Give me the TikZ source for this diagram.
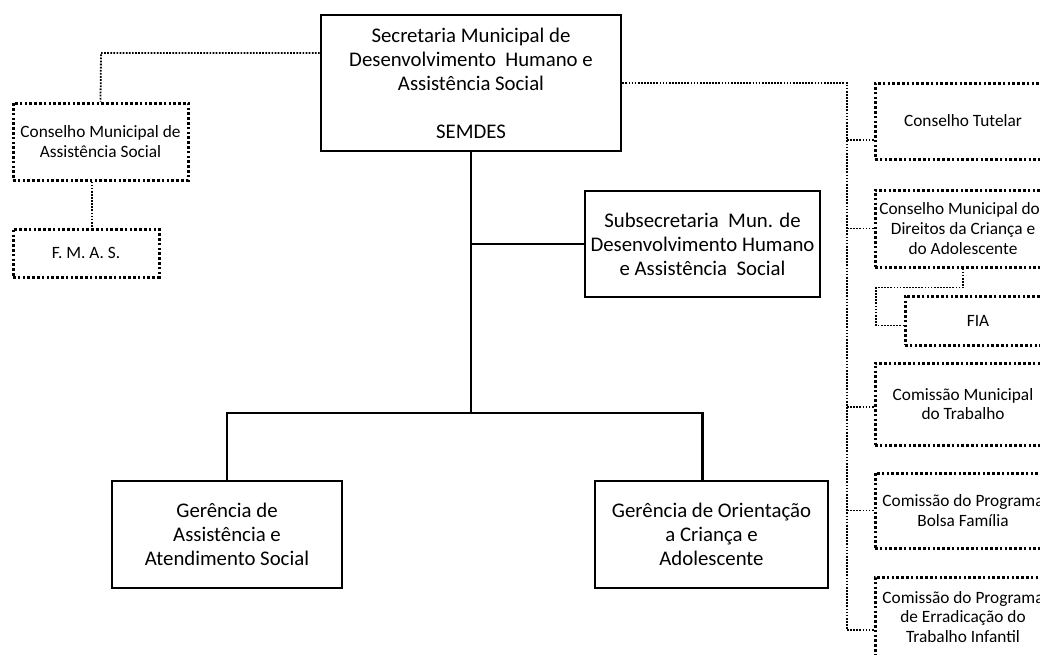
\documentclass[tikz,border=0pt]{standalone}
\usepackage{fontspec}
\setmainfont{Carlito}
\usetikzlibrary{positioning}
\tikzset{
orgbox/.style={ % solid boxes of the main hierarchy
draw,
line width=2.6pt,
inner sep=0pt,
align=center,
font=\fontsize{20.8}{24}\selectfont},
aux/.style={ % dotted boxes of the councils
draw,
line width=3pt,
dash pattern=on 2.6pt off 2.2pt,
inner sep=0pt,
align=center,
font=\fontsize{17.3}{19.8}\selectfont},
link/.style={ % solid connectors
draw,
line width=2.6pt},
dotlink/.style={ % dotted connectors
draw,
line width=1.8pt,
dash pattern=on 1.7pt off 1.4pt}}

\begin{document}
\begin{tikzpicture}[x=1pt,y=-1pt]
\clip (0,0) rectangle (1040,654);
\fill[white] (0,0) rectangle (1040,654);
% main hierarchy
\node[orgbox, minimum width=300, minimum height=136] (semdes) at (471,83)
{Secretaria Municipal de\\Desenvolvimento\ \ Humano e\\Assist\^encia Social\\[24pt]SEMDES};
\node[orgbox, minimum width=235, minimum height=106] (subsec) at (702.5,244)
{Subsecretaria\ \ Mun. de\\Desenvolvimento Humano\\e Assist\^encia\ \ Social};
\node[orgbox, minimum width=230, minimum height=107] (gas) at (227,534.5)
{Ger\^encia de\\Assist\^encia e\\Atendimento Social};
\node[orgbox, minimum width=233, minimum height=107] (goca) at (711.5,534.5)
{Ger\^encia de Orienta\c{c}\~ao\\a Crian\c{c}a e\\Adolescente};
% left councils
\node[aux, minimum width=175, minimum height=77] (cmas) at (100.5,141.5)
{Conselho Municipal de\\Assist\^encia Social};
\node[aux, minimum width=146, minimum height=48] (fmas) at (86,253) {F. M. A. S.};
% right councils
\node[aux, minimum width=176, minimum height=76] (tutelar) at (963,121) {Conselho Tutelar};
\node[aux, minimum width=176, minimum height=77] (cmdca) at (963,228.5)
{Conselho Municipal dos\\Direitos da Crian\c{c}a e\\do Adolescente};
\node[aux, minimum width=146, minimum height=49] (fia) at (978,320.5) {FIA};
\node[aux, minimum width=176, minimum height=82] (comtrab) at (963,404)
{Comiss\~ao Municipal\\do Trabalho};
\node[aux, minimum width=176, minimum height=75] (bolsa) at (963,510.5)
{Comiss\~ao do Programa\\Bolsa Fam\'ilia};
\node[aux, minimum width=176, minimum height=80] (peti) at (963,617)
{Comiss\~ao do Programa\\de Erradica\c{c}\~ao do\\Trabalho Infantil};

% solid connectors
\coordinate (bus) at (471,413);
\draw[link] (semdes.south) -- (bus);
\draw[link] (semdes.south |- subsec.west) -- (subsec.west);
\draw[link] (gas.north) |- (bus) -| ([xshift=-9]goca.north);

% dotted connectors, left
\coordinate (cl) at (101,53);
\draw[dotlink] (semdes.west |- cl) -- (cl) -- (cmas.north);
\draw[dotlink] ([xshift=6]fmas.north |- cmas.south) -- ([xshift=6]fmas.north);

% dotted connectors, right
\coordinate (trunk) at (847,83);
\path ([yshift=-13]peti.west) coordinate (tend);
\draw[dotlink] (semdes.east |- trunk) -- (trunk) -- (trunk |- tend);
\foreach \n/\dy in {tutelar/-19, cmdca/0, comtrab/-3, bolsa/0, peti/-13}{
  \path ([yshift=\dy pt]\n.west) coordinate (b);
  \draw[dotlink] (trunk |- b) -- (b);
}
\draw[dotlink] (cmdca.south) -- ++(0,19) -- ++(-87,0) |- ([yshift=-5]fia.west);
\end{tikzpicture}
\end{document}
